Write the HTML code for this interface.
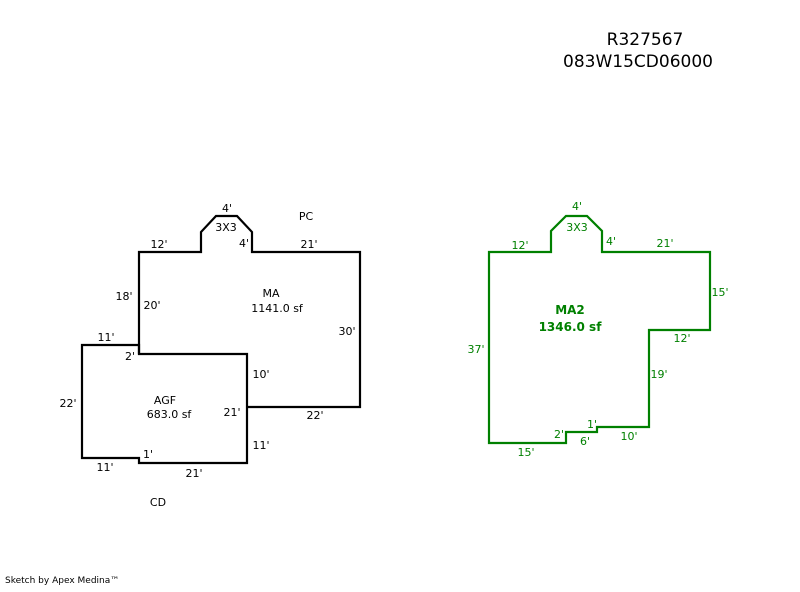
<!DOCTYPE html>
<html><head><style>
body{margin:0;background:#fff;}
svg text{font-family:"DejaVu Sans","Liberation Sans",sans-serif;font-size:11px;}
</style></head><body>
<svg width="800" height="587" xmlns="http://www.w3.org/2000/svg">
<text x="645" y="45" text-anchor="middle" style="font-size:17px">R327567</text>
<text x="638" y="67" text-anchor="middle" style="font-size:17px">083W15CD06000</text>
<g fill="none" stroke="#000" stroke-width="2.2">
<polyline points="139,354 139,252 201,252 201,232 216,216 237,216 252,232 252,252 360,252 360,407 247,407"/>
<polygon points="82,345 139,345 139,354 247,354 247,463 139,463 139,458 82,458"/>
</g>
<g fill="#000">
<text x="227" y="212" text-anchor="middle">4'</text>
<text x="226" y="231" text-anchor="middle">3X3</text>
<text x="306" y="220" text-anchor="middle">PC</text>
<text x="159" y="248" text-anchor="middle">12'</text>
<text x="244" y="247" text-anchor="middle">4'</text>
<text x="309" y="248" text-anchor="middle">21'</text>
<text x="124" y="300" text-anchor="middle">18'</text>
<text x="152" y="309" text-anchor="middle">20'</text>
<text x="271" y="297" text-anchor="middle">MA</text>
<text x="277" y="312" text-anchor="middle">1141.0 sf</text>
<text x="347" y="335" text-anchor="middle">30'</text>
<text x="106" y="341" text-anchor="middle">11'</text>
<text x="130" y="360" text-anchor="middle">2'</text>
<text x="261" y="378" text-anchor="middle">10'</text>
<text x="68" y="407" text-anchor="middle">22'</text>
<text x="165" y="404" text-anchor="middle">AGF</text>
<text x="169" y="418" text-anchor="middle">683.0 sf</text>
<text x="232" y="416" text-anchor="middle">21'</text>
<text x="315" y="419" text-anchor="middle">22'</text>
<text x="261" y="449" text-anchor="middle">11'</text>
<text x="148" y="458" text-anchor="middle">1'</text>
<text x="105" y="471" text-anchor="middle">11'</text>
<text x="194" y="477" text-anchor="middle">21'</text>
<text x="158" y="506" text-anchor="middle">CD</text>
</g>
<polygon fill="none" stroke="#008000" stroke-width="2.2" points="489,252 551,252 551,231 566,216 587,216 602,231 602,252 710,252 710,330 649,330 649,427 597,427 597,432 566,432 566,443 489,443"/>
<g fill="#008000">
<text x="577" y="210" text-anchor="middle">4'</text>
<text x="577" y="231" text-anchor="middle">3X3</text>
<text x="520" y="249" text-anchor="middle">12'</text>
<text x="611" y="245" text-anchor="middle">4'</text>
<text x="665" y="247" text-anchor="middle">21'</text>
<text x="720" y="296" text-anchor="middle">15'</text>
<text x="570" y="314" text-anchor="middle" style="font-weight:bold;font-size:12px">MA2</text>
<text x="570" y="331" text-anchor="middle" style="font-weight:bold;font-size:12px">1346.0 sf</text>
<text x="682" y="342" text-anchor="middle">12'</text>
<text x="476" y="353" text-anchor="middle">37'</text>
<text x="659" y="378" text-anchor="middle">19'</text>
<text x="592" y="428" text-anchor="middle">1'</text>
<text x="559" y="438" text-anchor="middle">2'</text>
<text x="629" y="440" text-anchor="middle">10'</text>
<text x="585" y="445" text-anchor="middle">6'</text>
<text x="526" y="456" text-anchor="middle">15'</text>
</g>
<text x="5" y="583" style="font-size:9px">Sketch by Apex Medina™</text>
</svg>
</body></html>
